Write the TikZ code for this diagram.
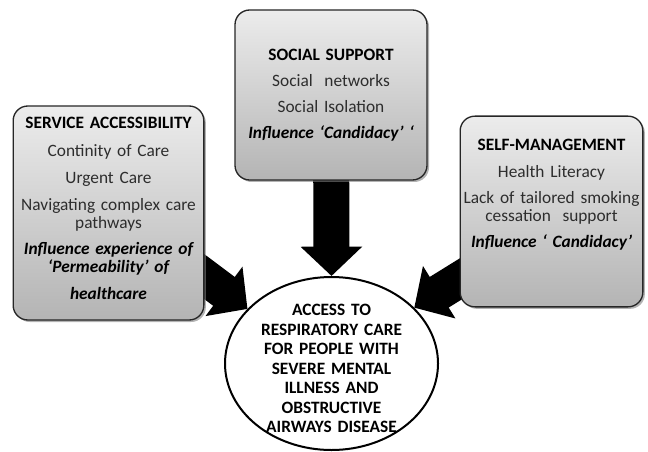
\documentclass[tikz,border=0pt]{standalone}
\usepackage{fontspec}
\setmainfont{Carlito}
\usetikzlibrary{positioning,shapes.geometric,shadows,arrows.meta,backgrounds}

\definecolor{boxtop}{RGB}{236,236,236}
\definecolor{boxbottom}{RGB}{180,180,180}
\definecolor{txtgray}{RGB}{45,45,45}

\tikzset{
  factorbox/.style={rounded corners=11pt, draw=black!85, line width=1pt,
    top color=boxtop, bottom color=boxbottom,
    drop shadow={shadow xshift=1.5pt, shadow yshift=-1.5pt, opacity=0.6}},
  factortext/.style={inner sep=0pt, text width=150pt, align=center, text=txtgray,
    font=\fontsize{13}{13.5}\selectfont},
  outcome/.style={ellipse, draw=black, line width=1.5pt, fill=white, inner sep=0pt},
  outcometext/.style={inner sep=0pt, text width=140pt, align=center,
    font=\bfseries\fontsize{13}{14.6}\selectfont},
  bigarrow/.style={line width=27pt, -{Triangle[width=45pt,length=22pt]}}
}

\begin{document}
\begin{tikzpicture}[x=0.75pt,y=-0.75pt]
  \useasboundingbox (0,0) rectangle (648,452);
  % the three factor boxes
  \node[factorbox, minimum width=143pt, minimum height=160.5pt] (accbox) at (108.5,213) {};
  \node[factorbox, minimum width=144pt, minimum height=127.5pt] (socbox) at (331,95) {};
  \node[factorbox, minimum width=137pt, minimum height=143pt] (selfbox) at (551.5,211.5) {};
  % their texts
  \node[factortext, below=9pt of accbox.north] (acctext) {%
    \textbf{\color{black}SERVICE ACCESSIBILITY}\\[7.5pt]
    Continity of Care\\[6.5pt]
    Urgent Care\\[6.5pt]
    Navigating complex care\\ pathways\\[6.5pt]
    \textbf{\itshape\color{black}Influence experience of\\ ‘Permeability’ of}\\[6.5pt]
    \textbf{\itshape\color{black}healthcare}};
  \node[factortext, below=30pt of socbox.north] (soctext) {%
    \textbf{\color{black}SOCIAL SUPPORT}\\[6pt]
    Social\ \ networks\\[6pt]
    Social Isolation\\[6pt]
    \textbf{\itshape\color{black}Influence ‘Candidacy’ ‘}};
  \node[factortext, below=17.25pt of selfbox.north] (selftext) {%
    \textbf{\color{black}SELF-MANAGEMENT}\\[7pt]
    Health Literacy\\[6pt]
    Lack of tailored smoking\\ cessation\ \ support\\[6pt]
    \textbf{\itshape\color{black}Influence ‘ Candidacy’}};
  % outcome
  \node[outcome, minimum width=159.75pt, minimum height=129.75pt] (access) at (331.5,363.5) {};
  \node[outcometext] (accesstext) at ([yshift=-3.75pt]access.center) {%
    ACCESS TO\\ RESPIRATORY CARE\\ FOR PEOPLE WITH\\ SEVERE MENTAL\\
    ILLNESS AND\\ OBSTRUCTIVE\\ AIRWAYS DISEASE};
  % arrows, behind the boxes
  \begin{pgfonlayer}{background}
    \draw[bigarrow] ([shift={(61.5,38)}]accbox.center) -- (access.147);
    \draw[bigarrow] (socbox.center) -- (access.north);
    \draw[bigarrow] ([shift={(-50.5,42.5)}]selfbox.center) -- (access.34);
  \end{pgfonlayer}
\end{tikzpicture}
\end{document}
